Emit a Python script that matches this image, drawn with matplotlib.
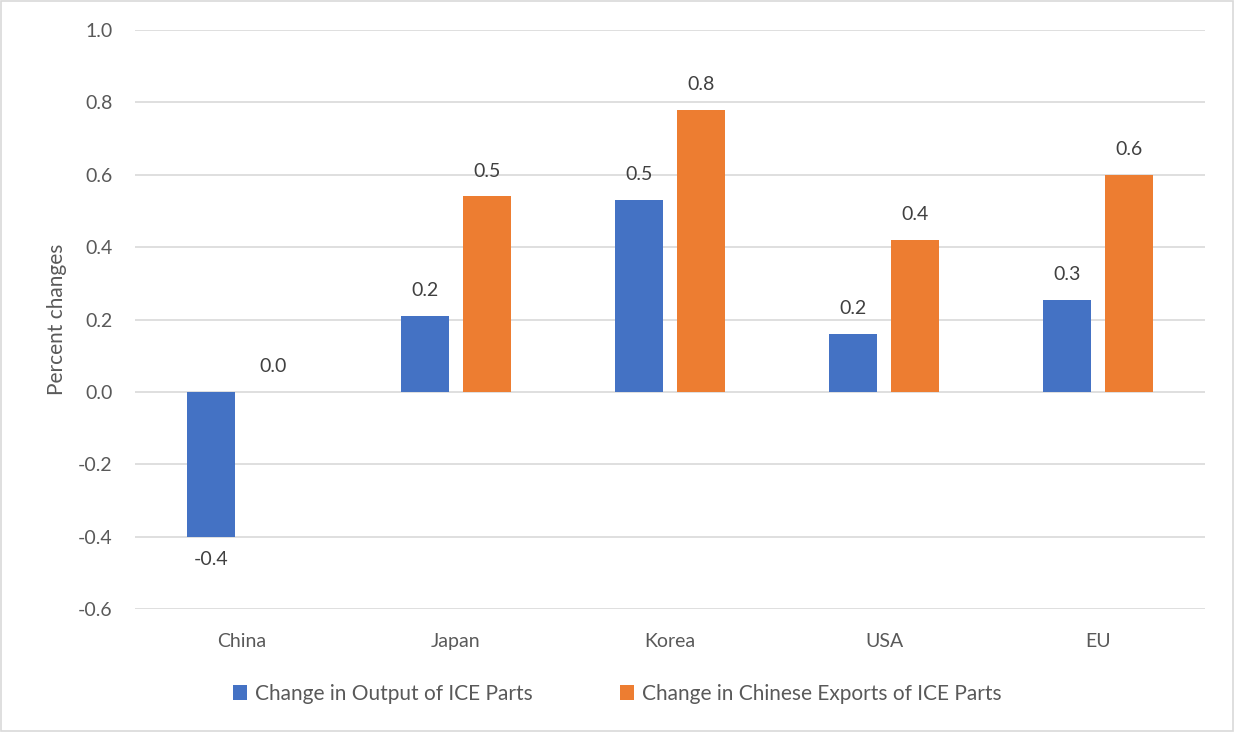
import numpy as np
import matplotlib.pyplot as plt
from matplotlib.patches import Rectangle

# Datos
regions = ["China", "Japan", "Korea", "USA", "EU"]
output_change = [-0.40, 0.21, 0.53, 0.16, 0.255]
exports_change = [0.0, 0.54, 0.78, 0.42, 0.60]
series_names = ["Change in Output of ICE Parts",
                "Change in Chinese Exports of ICE Parts"]
yticks = [-0.6, -0.4, -0.2, 0.0, 0.2, 0.4, 0.6, 0.8, 1.0]

blue = "#4472C4"
orange = "#ED7D31"
text_col = "#595959"

plt.rcParams['font.family'] = ['Lato', 'DejaVu Sans']

fig = plt.figure(figsize=(12.34, 7.32), dpi=100)
ax = fig.add_axes([0.1094, 0.168, 0.8671, 0.791])

x = np.arange(len(regions))
w = 0.225
off = 0.143
b1 = ax.bar(x - off, output_change, w, color=blue, zorder=3)
b2 = ax.bar(x + off, exports_change, w, color=orange, zorder=3)

# Etiquetas de valores
for bars, vals in [(b1, output_change), (b2, exports_change)]:
    for rect, v in zip(bars, vals):
        cx = rect.get_x() + rect.get_width() / 2
        if v >= 0:
            ax.annotate(f"{v:.1f}", (cx, v), xytext=(0, 12), textcoords="offset points",
                        ha="center", va="bottom", fontsize=14, color="#404040")
        else:
            ax.annotate(f"{v:.1f}", (cx, v), xytext=(0, -10), textcoords="offset points",
                        ha="center", va="top", fontsize=14, color="#404040")

ax.set_xlim(-0.5, len(regions) - 0.5)
ax.set_ylim(-0.6, 1.0)
ax.set_yticks(yticks)
ax.set_yticklabels([f"{t:.1f}" for t in yticks])
ax.set_xticks(x)
ax.set_xticklabels(regions)
ax.yaxis.grid(True, color="#D9D9D9", linewidth=1.2, zorder=0)
ax.tick_params(axis="both", length=0, labelsize=14, labelcolor=text_col)
ax.tick_params(axis="y", pad=16)
ax.tick_params(axis="x", pad=17)
for s in ax.spines.values():
    s.set_visible(False)
ax.set_ylabel("Percent changes", fontsize=15, color=text_col, labelpad=8)

leg = fig.legend([b1, b2], series_names, loc="center", bbox_to_anchor=(0.5, 0.052),
                 ncol=2, frameon=False, fontsize=15, handlelength=0.7, handleheight=0.7,
                 handletextpad=0.35, columnspacing=4.2, labelcolor=text_col)

# Borde de la figura
fig.patches.append(Rectangle((0.001, 0.001), 0.998, 0.998, transform=fig.transFigure,
                             fill=False, edgecolor="#D9D9D9", linewidth=1.2))

plt.savefig("out.png", dpi=100)
